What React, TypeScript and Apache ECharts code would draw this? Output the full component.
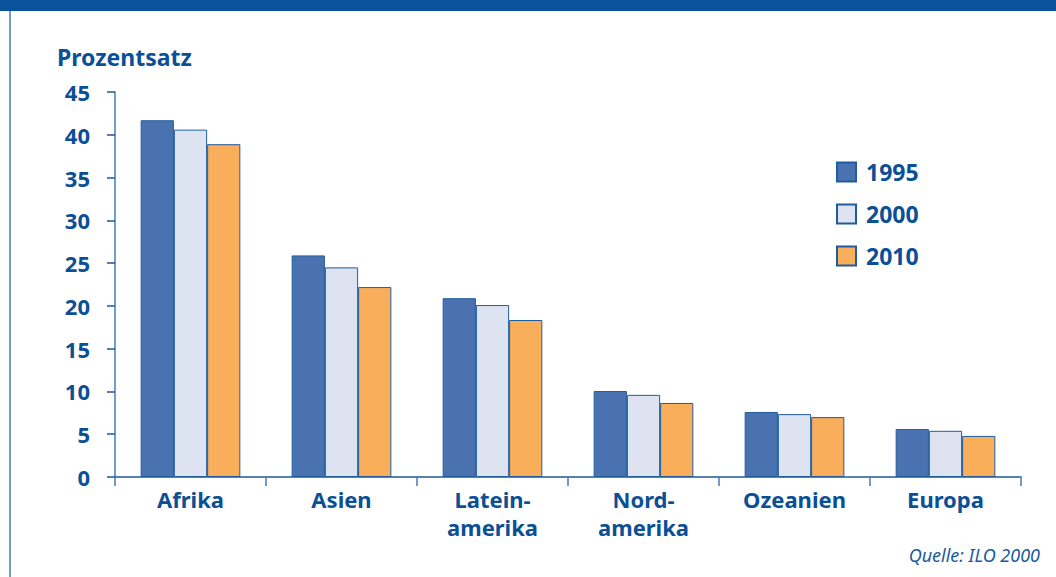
import React, { useEffect, useRef } from "react";
import * as echarts from "echarts";

const categories = ["Afrika", "Asien", "Latein-\namerika", "Nord-\namerika", "Ozeanien", "Europa"];
const years = ["1995", "2000", "2010"];
const values1995 = [41.7, 25.9, 20.9, 10.05, 7.6, 5.6];
const values2000 = [40.6, 24.5, 20.1, 9.6, 7.35, 5.4];
const values2010 = [38.9, 22.2, 18.35, 8.65, 7.0, 4.8];
const yTicks = { min: 0, max: 45, interval: 5 };

const BLUE = "#0b4f96";
const FONT = "'Noto Sans', 'Open Sans', sans-serif";

export default function App() {
  const ref = useRef<HTMLDivElement>(null);
  useEffect(() => {
    if (!ref.current) return;
    const chart = echarts.init(ref.current, undefined, { renderer: "svg" });
    const colors = ["#4a72b0", "#dde3f1", "#f9ae5b"];
    const data = [values1995, values2000, values2010];
    chart.setOption({
      animation: false,
      backgroundColor: "#ffffff",
      textStyle: { fontFamily: FONT },
      grid: { left: 115, right: 35, top: 92, bottom: 100 },
      title: {
        text: "Prozentsatz",
        left: 52,
        top: 40,
        textStyle: { color: BLUE, fontSize: 23, fontWeight: "bold", fontFamily: FONT },
      },
      legend: {
        orient: "vertical",
        left: 831,
        top: 155,
        itemWidth: 19,
        itemHeight: 19,
        itemGap: 18,
        icon: "rect",
        textStyle: {
          color: BLUE,
          fontSize: 23,
          fontWeight: "bold",
          fontFamily: FONT,
          lineHeight: 24,
          padding: [0, 0, 0, 5],
        },
        data: years,
      },
      xAxis: {
        type: "category",
        data: categories,
        axisLine: { lineStyle: { color: "#1a5a9e", width: 1.5 } },
        axisTick: { show: true, length: 9, lineStyle: { color: "#4a7ab5", width: 1.5 } },
        axisLabel: {
          color: BLUE,
          fontSize: 22,
          fontWeight: "bold",
          fontFamily: FONT,
          lineHeight: 28,
          margin: 8,
          interval: 0,
        },
      },
      yAxis: {
        type: "value",
        min: yTicks.min,
        max: yTicks.max,
        interval: yTicks.interval,
        splitLine: { show: false },
        axisLine: { show: true, lineStyle: { color: "#4a7ab5", width: 1.5 } },
        axisTick: { show: true, length: 8, lineStyle: { color: "#1a5a9e", width: 1.5 } },
        axisLabel: {
          color: BLUE,
          fontSize: 22,
          fontWeight: "bold",
          fontFamily: FONT,
          margin: 25,
        },
      },
      series: years.map((y, i) => ({
        name: y,
        type: "bar",
        data: data[i],
        barGap: "0%",
        barCategoryGap: "34%",
        itemStyle: { color: colors[i], borderColor: "#1f5c9e", borderWidth: 1 },
      })),
      graphic: [
        { type: "rect", left: 0, top: 0, shape: { width: 1056, height: 11 }, style: { fill: "#0a539b" } },
        {
          type: "line",
          shape: { x1: 10, y1: 11, x2: 10, y2: 577 },
          style: { stroke: "#4a7ab5", lineWidth: 1.5 },
        },
        {
          type: "text",
          right: 16,
          top: 546,
          style: {
            text: "Quelle: ILO 2000",
            fill: "#1a5a9e",
            font: "italic 18px 'Liberation Sans Narrow', 'Noto Sans', sans-serif",
          },
        },
      ],
    });
    return () => chart.dispose();
  }, []);
  return (
    <div
      ref={ref}
      style={{ position: "fixed", left: 0, top: 0, width: 1056, height: 577 }}
    />
  );
}
